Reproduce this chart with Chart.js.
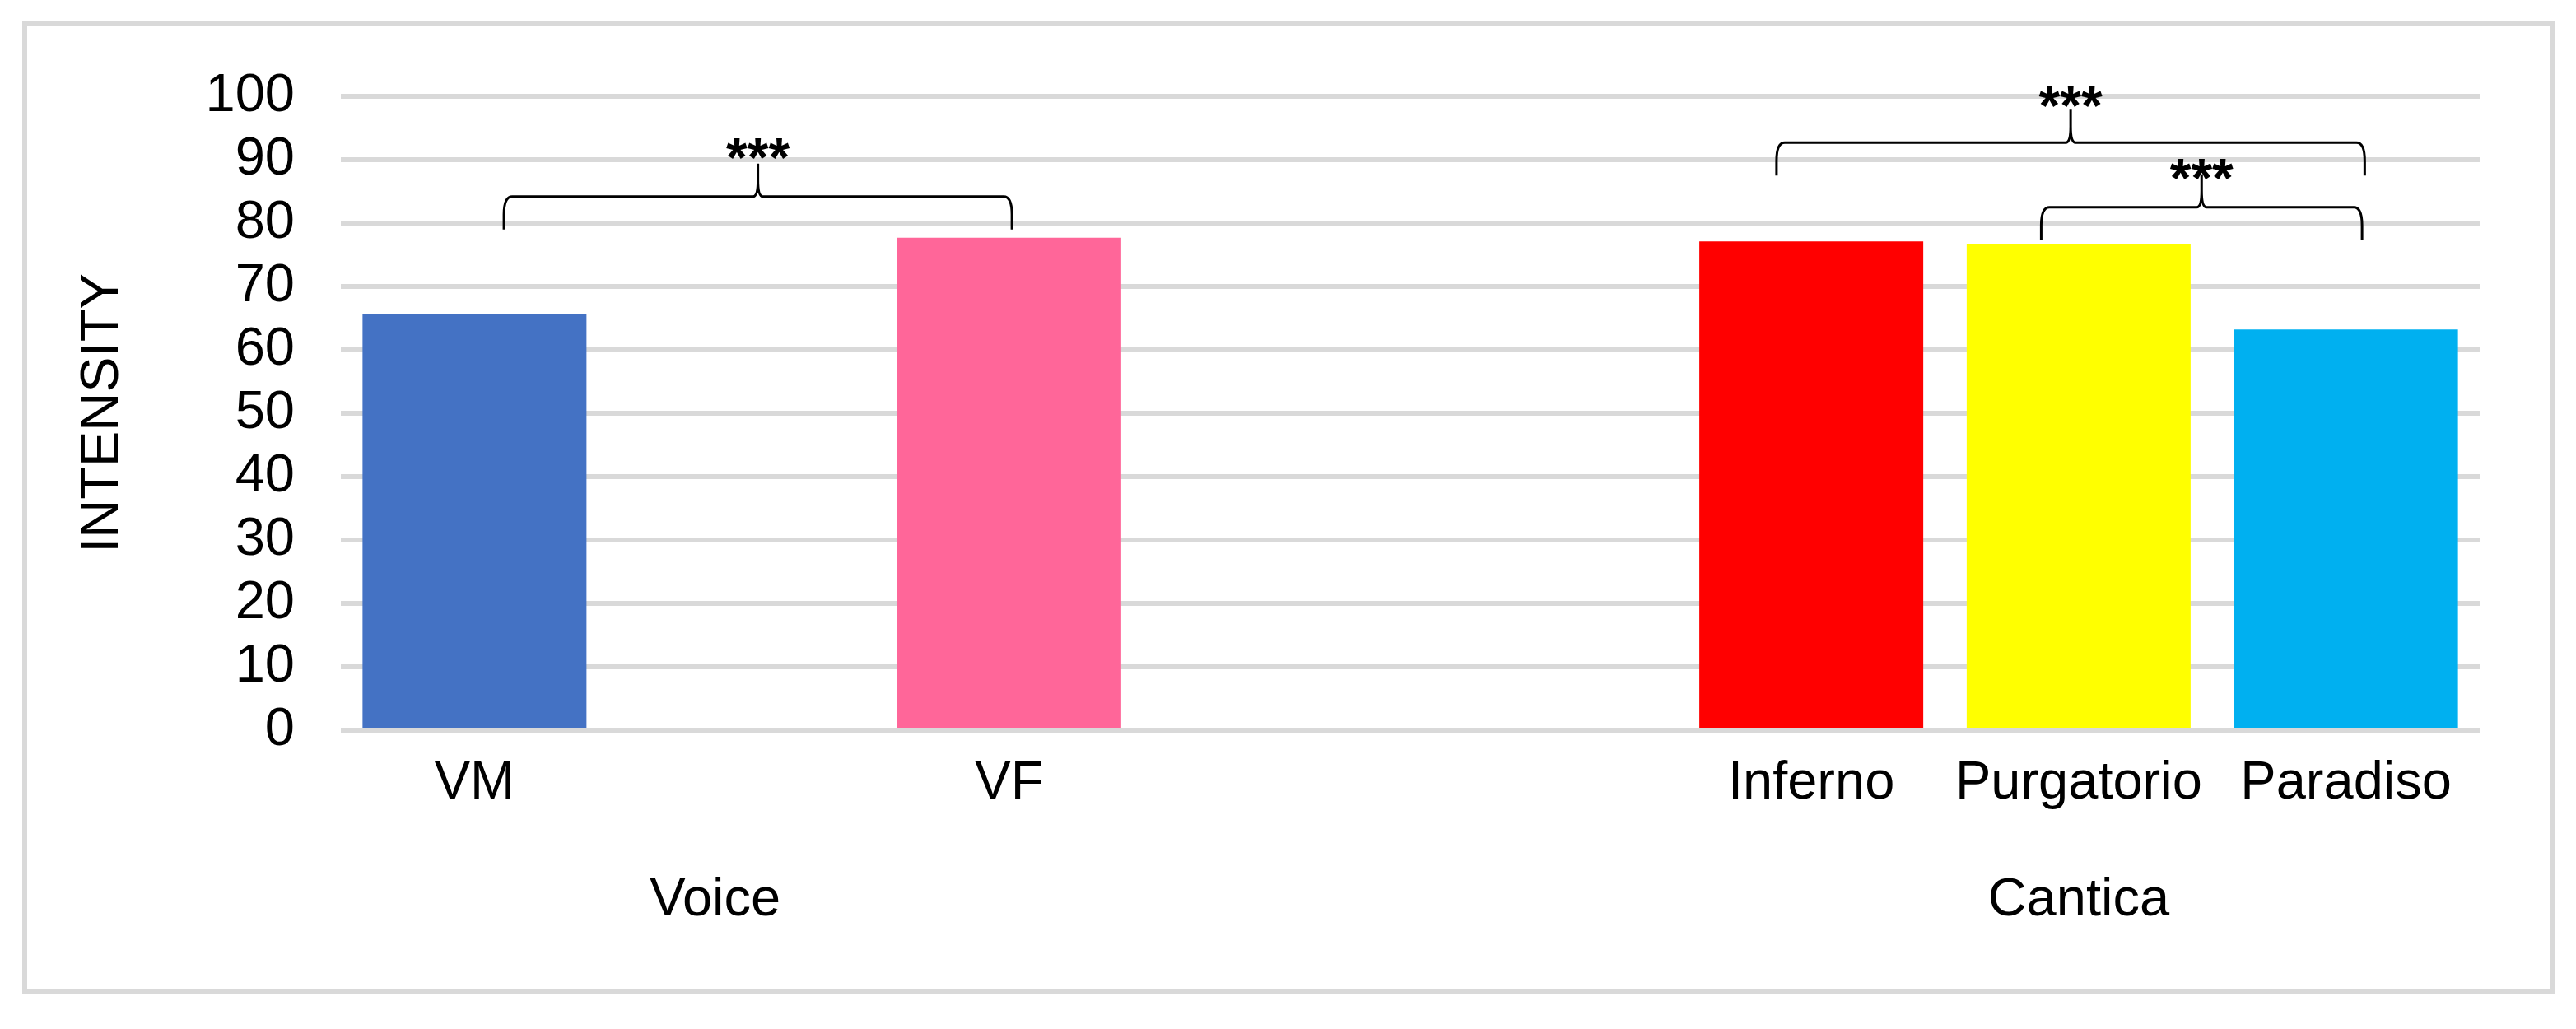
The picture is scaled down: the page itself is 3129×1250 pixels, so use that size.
<!DOCTYPE html>
<html>
<head>
<meta charset="utf-8">
<script src="https://cdn.jsdelivr.net/npm/chart.js@4.4.1/dist/chart.umd.min.js"></script>
<style>
  html, body { margin: 0; padding: 0; background: #fff; }
  canvas { display: block; }
</style>
</head>
<body>
<canvas id="chart" width="3129" height="1250"></canvas>
<script>
// categories, blanks are the empty slots Excel leaves between the two groups
const categories = ['VM', '', 'VF', '', '', 'Inferno', 'Purgatorio', 'Paradiso'];
const intensity = [65.6, null, 77.7, null, null, 77.1, 76.7, 63.2];
const barColors = ['#4472C4', null, '#FF6699', null, null, '#FF0000', '#FFFF00', '#00B0F0'];

const yMin = 0;
const yMax = 100;
const yStep = 10;

const groupNames = ['Voice', 'Cantica'];
const groupCenters = [0.9, 6];   // category index under the group name

// significance brackets: span in category index, level in intensity units
const bracketFrom = [0.11, 4.87, 5.86];
const bracketTo = [2.01, 7.07, 7.06];
const bracketLevel = [84.2, 92.7, 82.5];
const starLevel = [91.7, 100.0, 88.5];
const starText = ['***', '***', '***'];

const FONT = "'Liberation Sans', Arial, sans-serif";
Chart.defaults.font.family = FONT;

function drawBrace(ctx, x1, x2, y) {
    const xm = (x1 + x2) / 2;
    const leg = 40, tip = 40;
    const cx = 10, cy = 22, tx = 6, ty = 20;
    ctx.beginPath();
    ctx.moveTo(x1, y + leg);
    ctx.lineTo(x1, y + cy);
    ctx.quadraticCurveTo(x1, y, x1 + cx, y);
    ctx.lineTo(xm - tx, y);
    ctx.quadraticCurveTo(xm, y, xm, y - ty);
    ctx.lineTo(xm, y - tip);
    ctx.moveTo(xm, y - ty);
    ctx.quadraticCurveTo(xm, y, xm + tx, y);
    ctx.lineTo(x2 - cx, y);
    ctx.quadraticCurveTo(x2, y, x2, y + cy);
    ctx.lineTo(x2, y + leg);
    ctx.stroke();
}

const framePlugin = {
    id: 'frame',
    beforeDraw(chart) {
        const { ctx, width, height } = chart;
        ctx.save();
        ctx.fillStyle = '#fff';
        ctx.fillRect(0, 0, width, height);
        ctx.strokeStyle = '#D9D9D9';
        ctx.lineWidth = 6;
        ctx.strokeRect(30, 29, 3071, 1175);
        ctx.restore();
    },
};

const annotationPlugin = {
    id: 'annotations',
    afterDraw(chart) {
        const { ctx, chartArea } = chart;
        const x = chart.scales.x, y = chart.scales.y;
        ctx.save();

        // group names under the category labels
        ctx.fillStyle = '#000';
        ctx.font = `65px ${FONT}`;
        ctx.textAlign = 'center';
        ctx.textBaseline = 'alphabetic';
        groupNames.forEach((name, i) => {
            ctx.fillText(name, x.getPixelForValue(groupCenters[i]), chartArea.bottom + 225);
        });

        // significance braces
        ctx.strokeStyle = '#000';
        ctx.lineWidth = 3;
        ctx.lineJoin = 'round';
        ctx.font = `bold 66px ${FONT}`;
        bracketFrom.forEach((from, i) => {
            const x1 = x.getPixelForValue(from);
            const x2 = x.getPixelForValue(bracketTo[i]);
            drawBrace(ctx, x1, x2, y.getPixelForValue(bracketLevel[i]));
            const m = ctx.measureText(starText[i]);
            const sy = y.getPixelForValue(starLevel[i]);
            const base = sy + (m.actualBoundingBoxAscent - m.actualBoundingBoxDescent) / 2;
            ctx.fillText(starText[i], (x1 + x2) / 2, base);
        });
        ctx.restore();
    },
};

new Chart(document.getElementById('chart'), {
    type: 'bar',
    data: {
        labels: categories,
        datasets: [{
            data: intensity,
            backgroundColor: barColors,
            borderWidth: 0,
            categoryPercentage: 1,
            barPercentage: 0.8376,
        }],
    },
    options: {
        responsive: false,
        devicePixelRatio: 1,
        animation: false,
        layout: { padding: { left: 40, right: 117, top: 117, bottom: 0 } },
        plugins: { legend: { display: false }, tooltip: { enabled: false } },
        scales: {
            x: {
                ticks: { color: '#000', font: { size: 65 }, padding: 26, autoSkip: false, maxRotation: 0 },
                grid: { display: false, drawTicks: false },
                border: { display: false },
                afterFit: s => { s.height = 363; },
            },
            y: {
                min: yMin,
                max: yMax,
                ticks: { stepSize: yStep, autoSkip: false, color: '#000', font: { size: 65 }, padding: 56 },
                grid: { color: '#D9D9D9', lineWidth: 6, drawTicks: false },
                border: { display: false },
                title: {
                    display: true,
                    text: 'INTENSITY',
                    color: '#000',
                    font: { size: 65, lineHeight: 1 },
                    padding: { top: 53, bottom: 0 },
                },
                afterFit: s => { s.width = 374; },
            },
        },
    },
    plugins: [framePlugin, annotationPlugin],
});
</script>
</body>
</html>
